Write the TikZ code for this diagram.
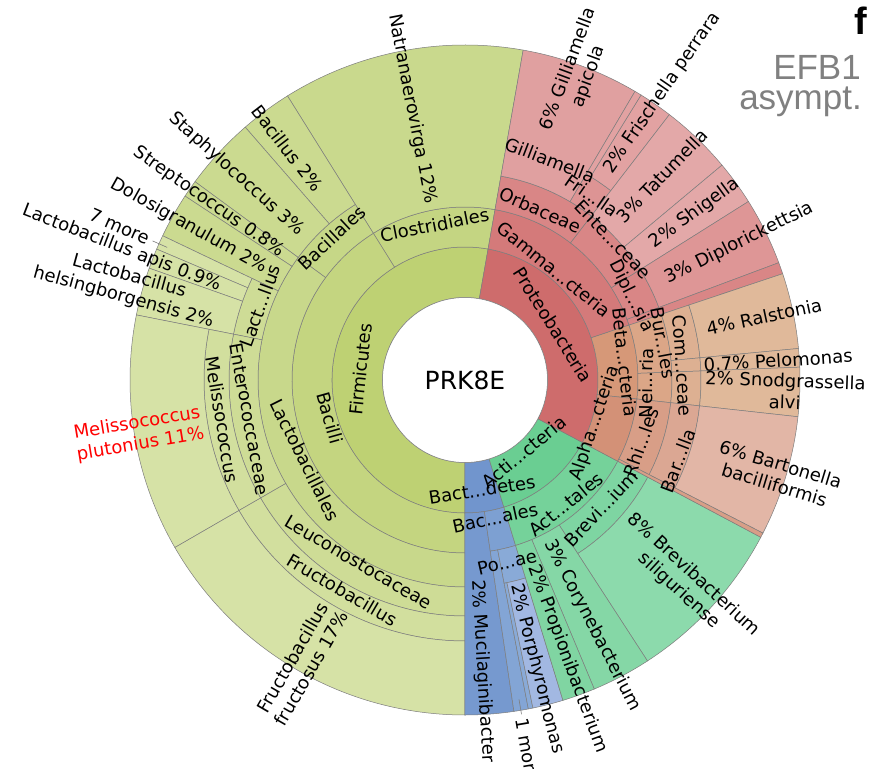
\documentclass[tikz,border=0pt]{standalone}
\usepackage{fontspec}
\setmainfont{DejaVu Sans}
\newfontfamily\arialf{Liberation Sans}
\definecolor{segline}{RGB}{125,125,125}
\definecolor{fP}{RGB}{190,209,115}
\definecolor{fC}{RGB}{196,213,128}
\definecolor{fClo}{RGB}{196,213,130}
\definecolor{fNat}{RGB}{201,217,141}
\definecolor{fBo}{RGB}{198,215,135}
\definecolor{fBl}{RGB}{203,218,144}
\definecolor{fO}{RGB}{200,216,139}
\definecolor{fF}{RGB}{206,220,150}
\definecolor{fG}{RGB}{210,223,158}
\definecolor{fL}{RGB}{214,226,166}
\definecolor{pP}{RGB}{206,108,108}
\definecolor{gC}{RGB}{212,122,122}
\definecolor{gO}{RGB}{217,134,134}
\definecolor{gF}{RGB}{221,148,148}
\definecolor{gGi}{RGB}{224,160,160}
\definecolor{gL}{RGB}{226,162,162}
\definecolor{gT}{RGB}{227,168,168}
\definecolor{gD}{RGB}{222,150,150}
\definecolor{betaC}{RGB}{214,152,120}
\definecolor{betaO}{RGB}{219,166,135}
\definecolor{betaF}{RGB}{221,176,146}
\definecolor{betaL}{RGB}{224,185,154}
\definecolor{alC}{RGB}{211,145,119}
\definecolor{alO}{RGB}{216,158,135}
\definecolor{alF}{RGB}{219,167,147}
\definecolor{alL}{RGB}{226,182,166}
\definecolor{aP}{RGB}{106,206,146}
\definecolor{aC}{RGB}{117,210,154}
\definecolor{aO}{RGB}{126,213,162}
\definecolor{aL}{RGB}{140,218,172}
\definecolor{aCo}{RGB}{133,215,166}
\definecolor{aPr}{RGB}{128,213,162}
\definecolor{bP}{RGB}{113,149,205}
\definecolor{bMu}{RGB}{118,153,207}
\definecolor{bC}{RGB}{125,160,210}
\definecolor{bOne}{RGB}{131,165,213}
\definecolor{bO}{RGB}{137,170,215}
\definecolor{bL}{RGB}{162,184,226}
\definecolor{titlegray}{RGB}{128,128,128}
\newcommand{\kseg}[5]{\filldraw[fill=#5, draw=segline, line width=0.5pt] (#1:#3pt) arc[start angle=#1, end angle=#2, radius=#3pt] -- (#2:#4pt) arc[start angle=#2, end angle=#1, radius=#4pt] -- cycle;}
\newcommand{\ktlab}[5]{\node[lbl, rotate=#4] (#1) at (#2:#3pt) {#5};}
\newcommand{\kleafR}[5][]{\node[lbl, #1, anchor=west, rotate=#3] (#2) at (#3:#4pt) {#5};}
\newcommand{\kleafL}[5][]{\node[lbl, #1, anchor=east, rotate=#3+180] (#2) at (#3:#4pt) {#5};}
\begin{document}
\begin{tikzpicture}[lbl/.style={inner sep=0pt, font=\fontsize{18}{21.5}\selectfont, align=center},
  leader/.style={draw=segline, line width=0.6pt}]
\useasboundingbox (-465pt,-389pt) rectangle (422pt,380pt);
\fill[white] (-465pt,-389pt) rectangle (422pt,380pt);
% Firmicutes
\kseg{80}{270}{82.5}{133}{fP}
\kseg{80}{122}{133}{173}{fClo}
\kseg{80}{122}{173}{335}{fNat}
\kseg{122}{270}{133}{173}{fC}
\kseg{122}{143.7}{173}{207}{fBo}
\kseg{122}{131}{207}{335}{fBl}
\kseg{131}{143.7}{207}{335}{fBl}
\kseg{143.7}{270}{173}{207}{fO}
\kseg{143.7}{146.7}{207}{335}{fBl}
\kseg{146.7}{154.5}{207}{335}{fBl}
\kseg{154.5}{168.8}{207}{236}{fF}
\kseg{154.5}{157}{236}{335}{fL}
\kseg{157}{160.5}{236}{335}{fL}
\kseg{160.5}{168.8}{236}{335}{fL}
\kseg{168.8}{210}{207}{236}{fF}
\kseg{168.8}{210}{236}{261}{fG}
\kseg{168.8}{210}{261}{335}{fL}
\kseg{210}{270}{207}{236}{fF}
\kseg{210}{270}{236}{261}{fG}
\kseg{210}{270}{261}{335}{fL}
% Bacteroidetes
\kseg{-90}{-73}{82.5}{133}{bP}
\kseg{-90}{-81.6}{133}{335}{bMu}
\kseg{-81.6}{-73}{133}{173}{bC}
\kseg{-81.6}{-79.1}{173}{335}{bOne}
\kseg{-79.1}{-73}{173}{207}{bO}
\kseg{-79.1}{-78.3}{207}{335}{bO}
\kseg{-78.3}{-73}{207}{335}{bL}
% Actinobacteria
\kseg{-73}{-28}{82.5}{133}{aP}
\kseg{-73}{-28}{133}{173}{aC}
\kseg{-57}{-28}{173}{207}{aO}
\kseg{-57}{-28}{207}{335}{aL}
\kseg{-67.3}{-57}{173}{335}{aCo}
\kseg{-73}{-67.3}{173}{335}{aPr}
% Proteobacteria
\kseg{-28}{80}{82.5}{133}{pP}
\kseg{18.5}{80}{133}{173}{gC}
\kseg{52.4}{80}{173}{207}{gO}
\kseg{59.5}{80}{207}{335}{gGi}
\kseg{52.4}{59.5}{207}{239}{gF}
\kseg{52.4}{58.3}{239}{335}{gL}
\kseg{58.3}{59.5}{239}{335}{gL}
\kseg{32.2}{52.4}{173}{207}{gO}
\kseg{39.9}{52.4}{207}{335}{gT}
\kseg{32.2}{39.9}{207}{335}{gT}
\kseg{20.5}{32.2}{173}{207}{gO}
\kseg{20.5}{32.2}{207}{335}{gD}
\kseg{18.5}{20.5}{173}{335}{gO}
\kseg{-6.3}{18.5}{133}{173}{betaC}
\kseg{2.2}{18.5}{173}{207}{betaO}
\kseg{5.4}{18.5}{207}{236}{betaF}
\kseg{5.4}{18.5}{236}{335}{betaL}
\kseg{2.2}{5.4}{207}{236}{betaF}
\kseg{2.2}{5.4}{236}{335}{betaL}
\kseg{-6.3}{2.2}{173}{207}{betaO}
\kseg{-6.3}{2.2}{207}{236}{betaF}
\kseg{-6.3}{2.2}{236}{335}{betaL}
\kseg{-28}{-6.3}{133}{173}{alC}
\kseg{-27.2}{-6.3}{173}{207}{alO}
\kseg{-27.2}{-6.3}{207}{236}{alF}
\kseg{-27.2}{-6.3}{236}{335}{alL}
\kseg{-28}{-27.2}{173}{335}{alO}
% centre
\node[circle, minimum size=165pt, inner sep=0pt, fill=white, draw=segline, line width=0.5pt,
  font=\fontsize{25}{30}\selectfont] (root) at (0,0) {PRK8E};
% inner labels
\ktlab{firm}{174}{105}{84}{Firmicutes}
\ktlab{prot}{32}{104}{-58}{Proteobacteria}
\ktlab{actp}{-50.7}{93}{39.3}{Acti...cteria}
\ktlab{bactp}{-81.2}{111}{8.8}{Bact...detes}
\ktlab{clos}{101.1}{158}{11.1}{Clostridiales}
\ktlab{bacilli}{195.7}{140}{285.7}{Bacilli}
\ktlab{gamma}{51.1}{142}{-38.9}{Gamma...cteria}
\ktlab{beta}{6.4}{161}{-83.6}{Beta...cteria}
\ktlab{alpha}{-18.5}{137}{71.5}{Alpha...cteria}
\ktlab{actt}{-50.9}{160}{39.1}{Act...tales}
\ktlab{bacales}{-77.7}{141}{12.3}{Bac...ales}
\ktlab{bacillales}{133.1}{194.6}{43.1}{Bacillales}
\ktlab{lactob}{206.6}{179}{296.6}{Lactobacillales}
\ktlab{orb}{66.2}{186}{-23.8}{Orbaceae}
\ktlab{ente}{43.4}{204}{-46.6}{Ente...ceae}
\ktlab{dipl}{26.8}{186}{-63.2}{Dipl...sia}
\ktlab{bur}{10.5}{202}{-79.5}{Bur...les}
\ktlab{nei}{-1}{181}{89}{Nei...ria}
\ktlab{rhi}{-19.4}{187}{70.6}{Rhi...les}
\ktlab{brevi}{-43.3}{187}{46.7}{Brevi...ium}
\ktlab{po}{-77}{187}{13}{Po...ae}
\ktlab{lactl}{160}{218}{70}{Lact...llus}
\ktlab{entero}{190.3}{219}{280.3}{Enterococcaceae}
\ktlab{meli}{189.3}{246}{279.3}{Melissococcus}
\ktlab{leuc}{239.7}{211}{329.7}{Leuconostocaceae}
\ktlab{fruc}{239.6}{243}{329.6}{Fructobacillus}
\ktlab{gill}{68.9}{236}{-21.1}{Gilliamella}
\ktlab{fri}{55.4}{224}{-34.6}{Fri...lla}
\ktlab{com}{3.7}{218}{-86.3}{Com...ceae}
\ktlab{bar}{-20.8}{228}{69.2}{Bar...lla}
% leaf labels
\kleafL{natr}{101}{180}{Natranaerovirga 12\%}
\kleafL{baci}{127.5}{240}{Bacillus 2\%}
\kleafL{stap}{138}{220}{Staphylococcus 3\%}
\kleafL{strep}{145.2}{222}{Streptococcus 0.8\%}
\kleafL{dolo}{150.8}{228}{Dolosigranulum 2\%}
\kleafL{more7}{156}{346}{7 more}
\kleafL{apis}{159}{262}{Lactobacillus apis 0.9\%}
\kleafL{hels}{164.6}{258}{Lactobacillus\\helsingborgensis 2\%}
\kleafL[text=red]{plut}{189.4}{266}{Melissococcus\\plutonius 11\%}
\kleafL{fruct}{240}{262}{Fructobacillus\\fructosus 17\%}
\kleafR{gilap}{69.7}{263}{6\% Gilliamella\\apicola}
\kleafR{fris}{55.5}{253}{2\% Frischella perrara}
\kleafR{tatu}{46}{223}{3\% Tatumella}
\kleafR{shig}{36}{231}{2\% Shigella}
\kleafR{diplo}{26.5}{225}{3\% Diplorickettsia}
\kleafR{rals}{12}{247}{4\% Ralstonia}
\kleafR{pelo}{3.6}{239}{0.7\% Pelomonas}
\kleafR{snod}{-2}{240}{2\% Snodgrassella\\alvi}
\kleafR{bart}{-16.8}{263}{6\% Bartonella\\bacilliformis}
\kleafR{brev}{-42.5}{214}{8\% Brevibacterium\\siliguriense}
\kleafR{cory}{-62.5}{181}{3\% Corynebacterium}
\kleafR{prop}{-69.8}{198}{2\% Propionibacterium}
\kleafR{muci}{-86.5}{200}{2\% Mucilaginibacter}
\kleafR{more1}{-80.4}{343}{1 more}
\kleafR{porp}{-76}{210}{2\% Porphyromonas}
% leaders
\coordinate (m7a) at (156:326pt);
\draw[leader, shorten >=4pt] (m7a) -- (more7.east);
\coordinate (m1a) at (-80.4:324pt);
\draw[leader, shorten >=4pt] (m1a) -- (more1.west);
% panel title
\node[anchor=base east, inner sep=0pt, font=\arialf\bfseries\fontsize{38}{40}\selectfont] (flab) at (402pt,345pt) {f};
\node[anchor=base east, inner sep=0pt, text=titlegray, font=\arialf\fontsize{35}{40}\selectfont] (efb) at (396pt,300pt) {EFB1};
\node[anchor=base east, inner sep=0pt, text=titlegray, font=\arialf\fontsize{35}{40}\selectfont] (asym) at (397pt,270pt) {asympt.};
\end{tikzpicture}
\end{document}
